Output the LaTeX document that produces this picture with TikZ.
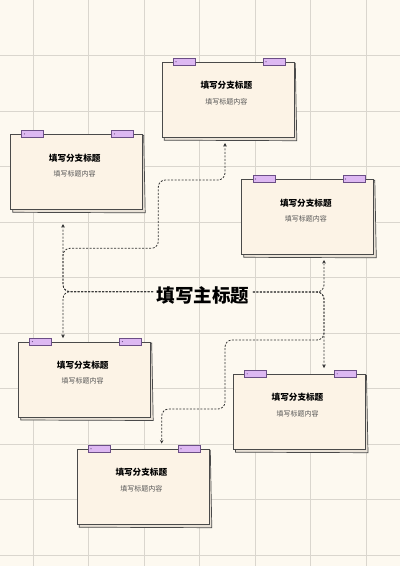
\documentclass[tikz,border=0pt]{standalone}
\usepackage{fontspec}
\setmainfont{Noto Sans CJK SC}
\usetikzlibrary{arrows.meta,calc}
\definecolor{bgc}{HTML}{FDF9F0}
\definecolor{gridc}{HTML}{DAD6CE}
\definecolor{cardc}{HTML}{FCF3E6}
\definecolor{edgec}{HTML}{4A4A4A}
\definecolor{tabc}{HTML}{DDB8F2}
\definecolor{tabedge}{HTML}{6B4E86}
\definecolor{subc}{HTML}{555555}
\definecolor{connc}{HTML}{333333}
\tikzset{
  gridline/.style={draw=gridc, line width=1pt},
  backsheet/.style={fill=cardc!85!gray, draw=edgec, line width=0.7pt},
  card/.style={draw=edgec, fill=cardc, line width=0.8pt, minimum width=132pt, minimum height=75pt, inner sep=0pt},
  tab/.style={draw=tabedge, fill=tabc, line width=0.6pt, minimum width=22pt, minimum height=7.3pt, inner sep=0pt},
  tabmark/.style={fill=tabedge},
  ctitle/.style={font=\fontsize{8.6}{10}\selectfont\bfseries, text=black, inner sep=0pt},
  csub/.style={font=\fontsize{7}{8}\selectfont, text=subc, inner sep=0pt},
  mtitle/.style={font=\fontsize{18.5}{22}\selectfont\bfseries, text=black, inner sep=3.5pt},
  conn/.style={draw=connc, line width=0.8pt, dash pattern=on 2pt off 1.5pt, rounded corners=7pt},
  arr/.style={-{Stealth[length=3.5pt,width=3.5pt]}}
}
\newcommand{\mycard}[3]{%
  \begin{scope}[shift={(#2,#3)}]
    \filldraw[backsheet] (-64,-35.5) -- (67,-36.5) -- (68.5,41) -- (-64,40.5) -- cycle;
  \end{scope}
  \node[card] (#1) at (#2,#3) {};
  \node[tab] (#1ta) at ([xshift=-44pt]#1.north) {};
  \node[tab] (#1tb) at ([xshift=46pt]#1.north) {};
  \fill[tabmark] ([xshift=3pt]#1ta.west) circle (0.6pt);
  \fill[tabmark] ([xshift=3pt]#1tb.west) circle (0.6pt);
  \node[ctitle] (#1t) at ([xshift=-2pt,yshift=14pt]#1.center) {填写分支标题};
  \node[csub] (#1s) at ([xshift=-2pt,yshift=-1.8pt]#1.center) {填写标题内容};
}
\begin{document}
\begin{tikzpicture}[x=1pt,y=-1pt]
\useasboundingbox (0,0) rectangle (400,566);
\fill[bgc] (0,0) rectangle (400,566);
% grid
\foreach \gx in {33.3,88.8,144.3,199.8,255.3,310.8,366.3}
  \draw[gridline] (\gx,0) -- (\gx,566);
\foreach \gy in {55.5,111,166.5,222,277.5,333,388.5,444,499.5,555}
  \draw[gridline] (0,\gy) -- (400,\gy);
% cards
\mycard{c1}{228.3}{99.7}
\mycard{c2}{76.7}{171.8}
\mycard{c3}{307.8}{216.8}
\mycard{c4}{84.7}{379.5}
\mycard{c5}{299.5}{411.7}
\mycard{c6}{143.3}{486.7}
% main title
\node[mtitle] (T) at (203,295) {填写主标题};
\coordinate (TW) at (T.west |- 0,291.7);
\coordinate (TE) at (T.east |- 0,292);
\coordinate (e1) at (225,143);
\coordinate (e2) at (63,224);
\coordinate (e3) at (324,260);
\coordinate (e4) at (63,338);
\coordinate (e5) at (324,368);
\coordinate (e6) at (161.7,443.5);
% connectors
\draw[conn,arr] (TW) -- (63,291.7) -- (e2);
\draw[conn,arr] (TW) -- (63,291.7) -- (e4);
\draw[conn,arr] (TW) -- (63,291.7) -- (63,248.3) -- (158.3,248.3) -- (158.3,180) -- (225,180) -- (e1);
\draw[conn,arr] (TE) -- (324,292) -- (e3);
\draw[conn,arr] (TE) -- (324,292) -- (e5);
\draw[conn,arr] (TE) -- (324,292) -- (324,340) -- (225,340) -- (225,409) -- (161.7,409) -- (e6);
\end{tikzpicture}
\end{document}
